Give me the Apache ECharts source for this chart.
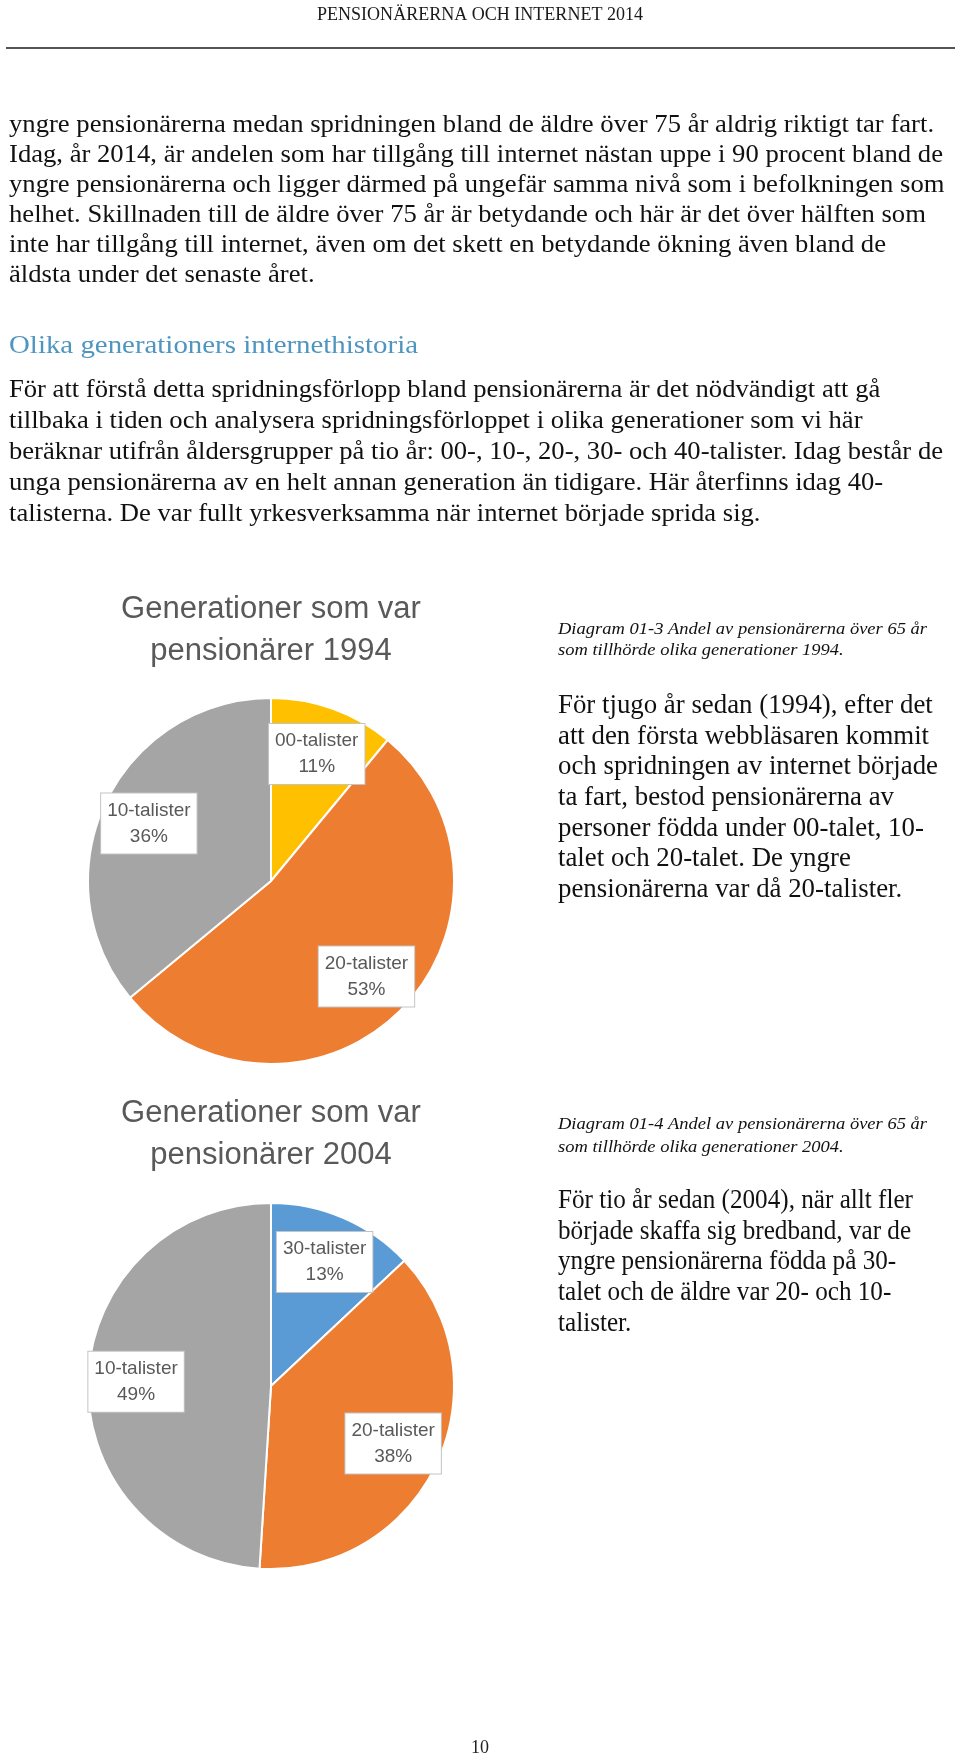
<!DOCTYPE html>
<html><head><meta charset="utf-8">
<script src="https://cdn.jsdelivr.net/npm/echarts@6/dist/echarts.min.js"></script>
<style>html,body{margin:0;padding:0;background:#fff}#c{width:960px;height:1760px}</style>
</head><body><div id="c"></div>
<script>
// ---------- content ----------
const headerText = 'PENSIONÄRERNA OCH INTERNET 2014';
const para1 = [
  'yngre pensionärerna medan spridningen bland de äldre över 75 år aldrig riktigt tar fart.',
  'Idag, år 2014, är andelen som har tillgång till internet nästan uppe i 90 procent bland de',
  'yngre pensionärerna och ligger därmed på ungefär samma nivå som i befolkningen som',
  'helhet. Skillnaden till de äldre över 75 år är betydande och här är det över hälften som',
  'inte har tillgång till internet, även om det skett en betydande ökning även bland de',
  'äldsta under det senaste året.'
];
const heading = 'Olika generationers internethistoria';
const para2 = [
  'För att förstå detta spridningsförlopp bland pensionärerna är det nödvändigt att gå',
  'tillbaka i tiden och analysera spridningsförloppet i olika generationer som vi här',
  'beräknar utifrån åldersgrupper på tio år: 00-, 10-, 20-, 30- och 40-talister. Idag består de',
  'unga pensionärerna av en helt annan generation än tidigare. Här återfinns idag 40-',
  'talisterna. De var fullt yrkesverksamma när internet började sprida sig.'
];
const pie1Title = 'Generationer som var\npensionärer 1994';
const pie1Names = ['00-talister', '20-talister', '10-talister'];
const pie1Values = [11, 53, 36];
const caption1 = [
  'Diagram 01-3 Andel av pensionärerna över 65 år',
  'som tillhörde olika generationer 1994.'
];
const body1 = [
  'För tjugo år sedan (1994), efter det',
  'att den första webbläsaren kommit',
  'och spridningen av internet började',
  'ta fart, bestod pensionärerna av',
  'personer födda under 00-talet, 10-',
  'talet och 20-talet. De yngre',
  'pensionärerna var då 20-talister.'
];
const pie2Title = 'Generationer som var\npensionärer 2004';
const pie2Names = ['30-talister', '20-talister', '10-talister'];
const pie2Values = [13, 38, 49];
const caption2 = [
  'Diagram 01-4 Andel av pensionärerna över 65 år',
  'som tillhörde olika generationer 2004.'
];
const body2 = [
  'För tio år sedan (2004), när allt fler',
  'började skaffa sig bredband, var de',
  'yngre pensionärerna födda på 30-',
  'talet och de äldre var 20- och 10-',
  'talister.'
];
const pageNumber = '10';

// ---------- styles ----------
const pie1Colors = ['#FFC000', '#ED7D31', '#A5A5A5'];
const pie2Colors = ['#5B9BD5', '#ED7D31', '#A5A5A5'];
const SERIF = '"Liberation Serif", "DejaVu Serif", serif';
const SANS = '"Liberation Sans", Arial, sans-serif';

const ctx = document.createElement('canvas').getContext('2d');
function fitScale(text, font, target) {
  ctx.font = font;
  const w = ctx.measureText(text).width;
  return Math.max(0.75, Math.min(1.25, target / w));
}
function block(lines, x, ys, font, fill, fitIdx, target) {
  const s = fitScale(lines[fitIdx], font, target);
  return lines.map((t, i) => ({
    type: 'text', x: x, y: ys[i], scaleX: s, silent: true,
    style: { text: t, font: font, fill: fill, align: 'left', verticalAlign: 'middle' }
  }));
}
function seq(start, step, n) { const a = []; for (let i = 0; i < n; i++) a.push(start + step * i); return a; }

const graphics = [];
// header
const hFont = '18px ' + SERIF;
graphics.push({ type: 'text', x: 480, y: 15, scaleX: fitScale(headerText, hFont, 326), silent: true,
  style: { text: headerText, font: hFont, fill: '#1a1a1a', align: 'center', verticalAlign: 'middle' } });
graphics.push({ type: 'line', silent: true, shape: { x1: 6, y1: 48, x2: 955, y2: 48 }, style: { stroke: '#555', lineWidth: 2 } });
// left body
const bodyFont = '24.5px ' + SERIF;
graphics.push(...block(para1, 9, seq(126, 30, 6), bodyFont, '#111', 1, 934));
graphics.push(...block([heading], 9, [347], '24.5px ' + SERIF, '#4e95c0', 0, 409));
graphics.push(...block(para2, 9, seq(391, 30.8, 5), bodyFont, '#111', 2, 934));
// right column
const capFont = 'italic 17.5px ' + SERIF;
const rFont = '26.5px ' + SERIF;
graphics.push(...block(caption1, 558, [629, 650], capFont, '#111', 0, 369));
graphics.push(...block(body1, 558, seq(706, 30.7, 7), rFont, '#111', 2, 380));
graphics.push(...block(caption2, 558, [1124, 1147], capFont, '#111', 0, 369));
graphics.push(...block(body2, 558, seq(1201, 30.7, 5), rFont, '#111', 0, 355));
// page number
graphics.push({ type: 'text', x: 480, y: 1748, silent: true,
  style: { text: pageNumber, font: '18px ' + SERIF, fill: '#222', align: 'center', verticalAlign: 'middle' } });

// pie titles
const titleStyle = { fontFamily: SANS, fontSize: 31, fontWeight: 'normal', color: '#595959', lineHeight: 42 };

function pieSeries(names, values, colors, center) {
  const data = names.map((n, i) => ({ name: n, value: values[i], itemStyle: { color: colors[i] } }));
  return [
    {
      type: 'pie', center: center, radius: [0, 183], startAngle: 90, clockwise: true,
      data: data, label: { show: false }, labelLine: { show: false },
      itemStyle: { borderColor: '#fff', borderWidth: 2 },
      emphasis: { disabled: true }, animation: false, silent: true
    },
    {
      type: 'pie', center: center, radius: [0, 264], startAngle: 90, clockwise: true, z: 5,
      data: names.map((n, i) => ({ name: n, value: values[i] })),
      itemStyle: { color: 'rgba(0,0,0,0)', borderWidth: 0 },
      labelLine: { show: false }, emphasis: { disabled: true }, animation: false, silent: true,
      label: {
        show: true, position: 'inside', formatter: '{b}\n{c}%',
        fontFamily: SANS, fontSize: 19, color: '#595959', lineHeight: 26,
        backgroundColor: '#fff', borderColor: '#c4c4c4', borderWidth: 1, padding: [4, 6]
      }
    }
  ];
}

const chart = echarts.init(document.getElementById('c'), null, { renderer: 'canvas' });
chart.setOption({
  animation: false,
  backgroundColor: '#fff',
  title: [
    { text: pie1Title, left: 271, top: 588, textAlign: 'center', padding: 0, textStyle: titleStyle },
    { text: pie2Title, left: 271, top: 1092, textAlign: 'center', padding: 0, textStyle: titleStyle }
  ],
  series: [
    ...pieSeries(pie1Names, pie1Values, pie1Colors, [271, 881]),
    ...pieSeries(pie2Names, pie2Values, pie2Colors, [271, 1386])
  ],
  graphic: { elements: graphics }
});
</script></body></html>
